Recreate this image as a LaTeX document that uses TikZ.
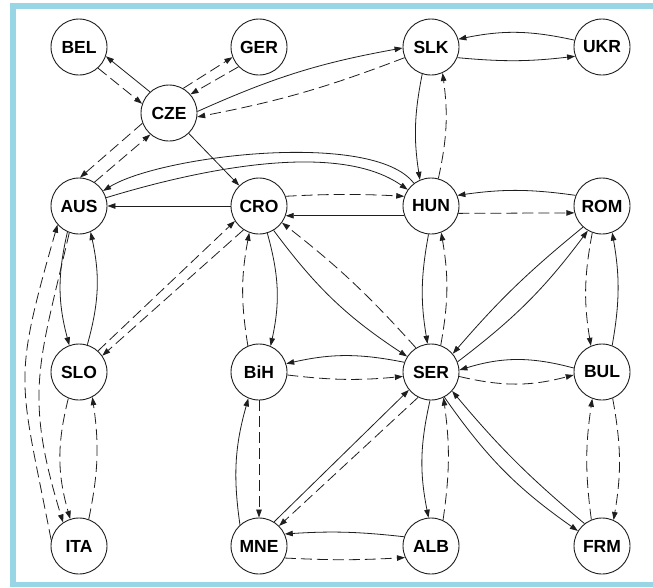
\documentclass[tikz,border=0pt]{standalone}
\usepackage{fontspec}
\setmainfont{Liberation Sans}
\usetikzlibrary{arrows.meta}
\definecolor{framecol}{RGB}{153,214,229}
\definecolor{ink}{RGB}{30,30,30}
\tikzset{
  nd/.style={circle, draw=ink, line width=0.9pt, minimum size=56pt, inner sep=0pt,
    font=\fontsize{17.5}{18}\selectfont\bfseries},
  sl/.style={draw=ink, line width=0.8pt, -{Triangle[length=8pt,width=5.5pt]}},
  dl/.style={sl, dash pattern=on 11pt off 5pt},
}
\begin{document}
\begin{tikzpicture}[x=1pt,y=1pt]
\useasboundingbox (0,0) rectangle (653,-587);
\fill[white] (0,0) rectangle (653,-587);
% frame
\fill[framecol] (10,-3) rectangle (653,-9);
\fill[framecol] (10,-3) rectangle (16,-587);
\fill[framecol] (10,-582) rectangle (653,-587);
% nodes
\node[nd] (BEL) at (79,-47) {BEL};
\node[nd] (GER) at (259,-47) {GER};
\node[nd] (CZE) at (169,-113) {CZE};
\node[nd] (SLK) at (431,-47) {SLK};
\node[nd] (UKR) at (602,-47) {UKR};
\node[nd] (AUS) at (79,-206) {AUS};
\node[nd] (CRO) at (259,-206) {CRO};
\node[nd] (HUN) at (431,-206) {HUN};
\node[nd] (ROM) at (602,-206) {ROM};
\node[nd] (SLO) at (79,-372) {SLO};
\node[nd] (BiH) at (259,-372) {BiH};
\node[nd] (SER) at (431,-372) {SER};
\node[nd] (BUL) at (602,-372) {BUL};
\node[nd] (ITA) at (79,-546) {ITA};
\node[nd] (MNE) at (259,-546) {MNE};
\node[nd] (ALB) at (431,-546) {ALB};
\node[nd] (FRM) at (602,-546) {FRM};
% edges
\draw[sl] (CZE.132) -- (BEL.-19);
\draw[dl] (BEL.-48) -- (CZE.161);
\draw[dl] (CZE.60) -- (GER.201);
\draw[dl] (GER.224) -- (CZE.41);
\draw[sl] (CZE.3) to[bend left=7] (SLK.182);
\draw[dl] (SLK.202) to[bend left=5] (CZE.-8);
\draw[dl] (CZE.201) -- (AUS.88);
\draw[dl] (AUS.57) -- (CZE.229);
\draw[sl] (CZE) -- (CRO);
\draw[sl] (UKR.166) to[bend right=12] (SLK.16);
\draw[sl] (SLK.-22) to[bend right=6] (UKR.199);
\draw[sl] (SLK.252) to[bend right=10] (HUN.113);
\draw[dl] (HUN.75) to[bend right=10] (SLK.-66);
\draw[sl] (HUN.127) to[out=127, in=32, looseness=0.55] (AUS.32);
\draw[sl] (AUS.17) to[out=17, in=145, looseness=0.75] (HUN.145);
\draw[sl] (CRO) -- (AUS);
\draw[dl] (CRO.20) to[bend left=3] (HUN.160);
\draw[sl] (HUN.200) -- (CRO.-20);
\draw[sl] (ROM.158) to[bend right=8] (HUN.22);
\draw[dl] (HUN.-15) -- (ROM.194);
\draw[sl] (AUS.246) to[bend right=14] (SLO.110);
\draw[sl] (SLO.73) to[bend right=14] (AUS.-66);
\draw[dl] (ITA.168) to[out=101, in=254, looseness=1.35] (AUS.221);
\draw[dl] (AUS.250) to[out=257, in=107, looseness=1.19] (ITA.124);
\draw[dl] (SLO.248) to[bend right=15] (ITA.108);
\draw[dl] (ITA.70) to[bend right=10] (SLO.-62);
\draw[dl] (SLO.48) -- (CRO.212);
\draw[dl] (CRO.237) -- (SLO.35);
\draw[dl] (BiH.113) to[bend left=10] (CRO.250);
\draw[sl] (CRO.-73) to[bend left=14] (BiH.66);
\draw[sl] (CRO.-59) to[bend right=10] (SER.147);
\draw[dl] (SER.122) to[bend right=5] (CRO.-36);
\draw[sl] (HUN.265) to[bend right=10] (SER.97);
\draw[dl] (SER.70) to[bend right=10] (HUN.-69);
\draw[sl] (ROM.228) to[bend right=5] (SER.40);
\draw[sl] (SER.21) to[bend right=8] (ROM.240);
\draw[dl] (ROM.250) to[bend right=10] (BUL.113);
\draw[sl] (BUL.69) to[bend right=10] (ROM.-69);
\draw[sl] (BUL.172) to[bend right=16] (SER.4);
\draw[dl] (SER.-9) to[bend right=14] (BUL.186);
\draw[sl] (SER.160) to[bend right=12] (BiH.17);
\draw[dl] (BiH.-6) to[bend right=6] (SER.189);
\draw[sl] (MNE.132) to[bend left=12] (BiH.248);
\draw[dl] (BiH) -- (MNE);
\draw[sl] (MNE.58) -- (SER.219);
\draw[dl] (SER.243) -- (MNE.45);
\draw[sl] (ALB.161) to[bend right=5] (MNE.25);
\draw[dl] (MNE.-25) to[bend right=3] (ALB.204);
\draw[sl] (SER.268) to[bend right=12] (ALB.95);
\draw[dl] (ALB.65) to[bend right=8] (SER.-64);
\draw[sl] (FRM.128) to[bend left=5] (SER.-42);
\draw[sl] (SER.-62) to[bend right=10] (FRM.148);
\draw[dl] (FRM.112) to[bend left=8] (BUL.250);
\draw[dl] (BUL.-68) to[bend left=10] (FRM.66);
\end{tikzpicture}
\end{document}
